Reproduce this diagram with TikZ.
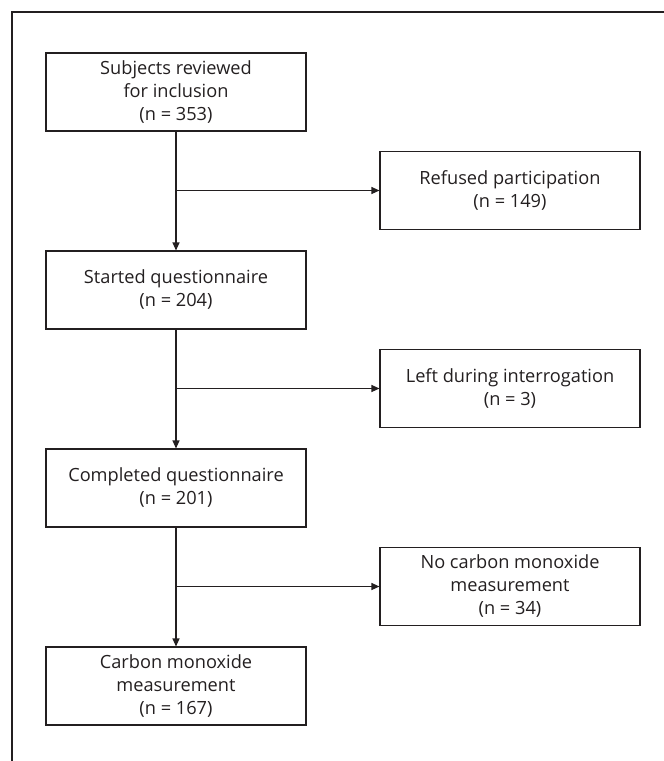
\documentclass[tikz,border=0pt]{standalone}
\usepackage{fontspec}
\setmainfont{Open Sans}
\usetikzlibrary{arrows.meta}
\definecolor{ink}{RGB}{35,31,32}
\tikzset{
  box/.style={draw=ink, line width=1.1pt, minimum width=260pt, minimum height=78pt, inner sep=0pt, align=center, text=ink, font=\fontsize{18.2}{23}\selectfont},
  arr/.style={draw=ink, line width=1.1pt, -{Triangle[length=8pt,width=7pt]}},
  frame/.style={draw=ink, line width=1.1pt}
}
\begin{document}
\begin{tikzpicture}[x=1pt,y=-1pt]
\useasboundingbox (0,0) rectangle (664,761);
\coordinate (fb) at (12,761);
\coordinate (fc) at (12,12);
\coordinate (fr) at (664,12);
\draw[frame] (fb) -- (fc) -- (fr);
\node[box] (b1) at (176,92) {Subjects reviewed\\for inclusion\\(n = 353)};
\node[box] (r1) at (510,190.5) {Refused participation\\(n = 149)};
\node[box] (b2) at (176,290) {Started questionnaire\\(n = 204)};
\node[box] (r2) at (510,388.5) {Left during interrogation\\(n = 3)};
\node[box] (b3) at (176,488) {Completed questionnaire\\(n = 201)};
\node[box] (r3) at (510,586.5) {No carbon monoxide\\measurement\\(n = 34)};
\node[box] (b4) at (176,686) {Carbon monoxide\\measurement\\(n = 167)};
\coordinate (j1) at (b1.south |- r1.west);
\coordinate (j2) at (b2.south |- r2.west);
\coordinate (j3) at (b3.south |- r3.west);
\draw[arr] (b1.south) -- (b2.north);
\draw[arr] (b2.south) -- (b3.north);
\draw[arr] (b3.south) -- (b4.north);
\draw[arr] (j1) -- (r1.west);
\draw[arr] (j2) -- (r2.west);
\draw[arr] (j3) -- (r3.west);
\end{tikzpicture}
\end{document}
